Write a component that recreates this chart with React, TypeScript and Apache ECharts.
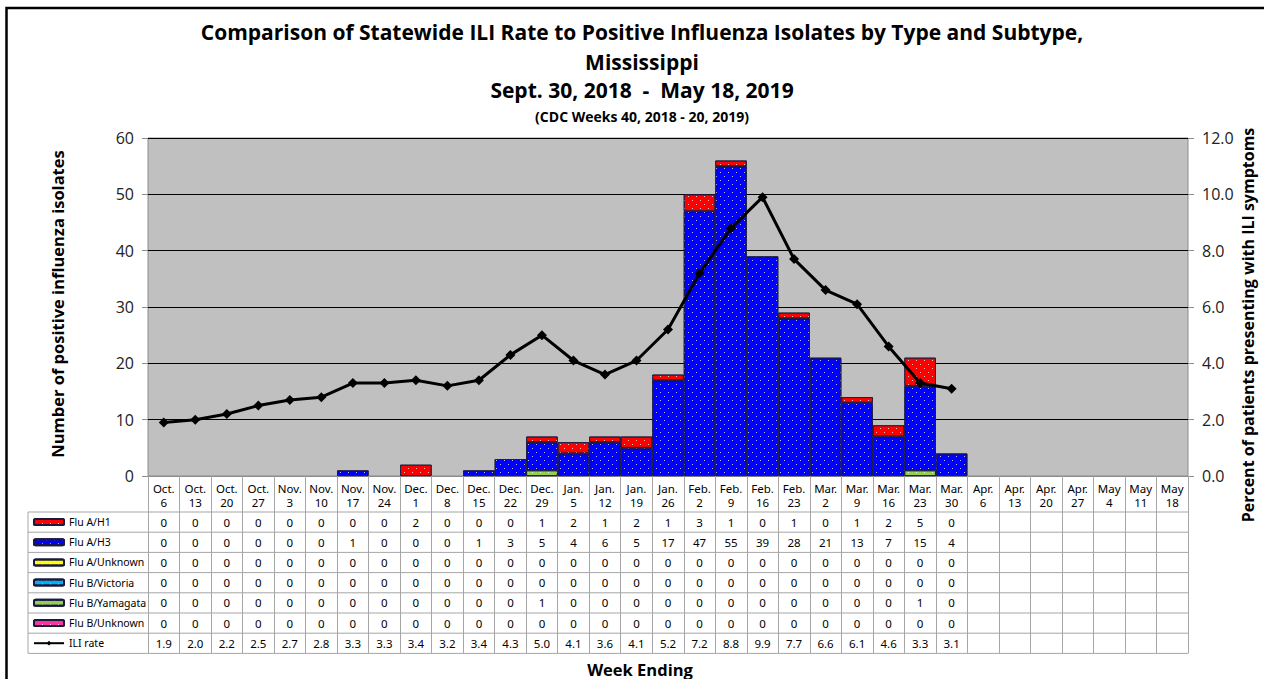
import React, { useEffect, useRef } from "react";
import * as echarts from "echarts";

const categories = [
  "Oct. 6", "Oct. 13", "Oct. 20", "Oct. 27", "Nov. 3", "Nov. 10", "Nov. 17", "Nov. 24",
  "Dec. 1", "Dec. 8", "Dec. 15", "Dec. 22", "Dec. 29", "Jan. 5", "Jan. 12", "Jan. 19",
  "Jan. 26", "Feb. 2", "Feb. 9", "Feb. 16", "Feb. 23", "Mar. 2", "Mar. 9", "Mar. 16",
  "Mar. 23", "Mar. 30", "Apr. 6", "Apr. 13", "Apr. 20", "Apr. 27", "May 4", "May 11", "May 18",
];

const fluAH1 = [0, 0, 0, 0, 0, 0, 0, 0, 2, 0, 0, 0, 1, 2, 1, 2, 1, 3, 1, 0, 1, 0, 1, 2, 5, 0];
const fluAH3 = [0, 0, 0, 0, 0, 0, 1, 0, 0, 0, 1, 3, 5, 4, 6, 5, 17, 47, 55, 39, 28, 21, 13, 7, 15, 4];
const fluAUnknown = [0, 0, 0, 0, 0, 0, 0, 0, 0, 0, 0, 0, 0, 0, 0, 0, 0, 0, 0, 0, 0, 0, 0, 0, 0, 0];
const fluBVictoria = [0, 0, 0, 0, 0, 0, 0, 0, 0, 0, 0, 0, 0, 0, 0, 0, 0, 0, 0, 0, 0, 0, 0, 0, 0, 0];
const fluBYamagata = [0, 0, 0, 0, 0, 0, 0, 0, 0, 0, 0, 0, 1, 0, 0, 0, 0, 0, 0, 0, 0, 0, 0, 0, 1, 0];
const fluBUnknown = [0, 0, 0, 0, 0, 0, 0, 0, 0, 0, 0, 0, 0, 0, 0, 0, 0, 0, 0, 0, 0, 0, 0, 0, 0, 0];
const iliRate = [1.9, 2.0, 2.2, 2.5, 2.7, 2.8, 3.3, 3.3, 3.4, 3.2, 3.4, 4.3, 5.0, 4.1, 3.6, 4.1, 5.2, 7.2, 8.8, 9.9, 7.7, 6.6, 6.1, 4.6, 3.3, 3.1];

const leftTicks = { min: 0, max: 60, interval: 10 };
const rightTicks = { min: 0, max: 12, interval: 2 };

const titleLines = [
  "Comparison of Statewide ILI Rate to Positive Influenza Isolates by Type and Subtype,",
  "Mississippi",
  "Sept. 30, 2018  -  May 18, 2019",
  "(CDC Weeks 40, 2018 - 20, 2019)",
];

const SANS = "'Open Sans', 'Noto Sans', sans-serif";
const TBL = "'Noto Sans', 'Open Sans', sans-serif";

// layout
const GRID_L = 148;
const GRID_R = 1188;
const GRID_T = 138;
const GRID_B = 476;
const TABLE_L = 28;
const HEADER_B = 512;
const ROW_H = 20.2;

const barSeriesDefs = [
  { name: "Flu B/Unknown", data: fluBUnknown, color: "#ff3399" },
  { name: "Flu B/Yamagata", data: fluBYamagata, color: "#92d050" },
  { name: "Flu B/Victoria", data: fluBVictoria, color: "#00b0f0" },
  { name: "Flu A/Unknown", data: fluAUnknown, color: "#ffff00" },
  { name: "Flu A/H3", data: fluAH3, color: "#0000ff" },
  { name: "Flu A/H1", data: fluAH1, color: "#ff0000" },
];

const tableRows = [
  { name: "Flu A/H1", data: fluAH1, fmt: (v: number) => String(v) },
  { name: "Flu A/H3", data: fluAH3, fmt: (v: number) => String(v) },
  { name: "Flu A/Unknown", data: fluAUnknown, fmt: (v: number) => String(v) },
  { name: "Flu B/Victoria", data: fluBVictoria, fmt: (v: number) => String(v) },
  { name: "Flu B/Yamagata", data: fluBYamagata, fmt: (v: number) => String(v) },
  { name: "Flu B/Unknown", data: fluBUnknown, fmt: (v: number) => String(v) },
  { name: "ILI rate", data: iliRate, fmt: (v: number) => v.toFixed(1) },
];

const decal = {
  symbol: "rect",
  symbolSize: 1,
  color: "rgba(255,255,255,0.75)",
  dashArrayX: [[1, 7], [0, 4, 1, 3]],
  dashArrayY: [1, 3],
  rotation: 0,
};

export default function App() {
  const ref = useRef<HTMLDivElement>(null);

  useEffect(() => {
    if (!ref.current) return;
    const chart = echarts.init(ref.current, undefined, { renderer: "svg" });

    const rowCenters = tableRows.map((_, i) => HEADER_B + ROW_H * (i + 0.5));
    const tableBottom = HEADER_B + ROW_H * tableRows.length;

    const extraXAxes = tableRows.map((row, i) => ({
      type: "category",
      gridIndex: 0,
      position: "bottom",
      offset: rowCenters[i] - GRID_B,
      data: categories,
      axisLine: { show: false },
      axisTick: { show: false },
      splitLine: { show: false },
      axisLabel: {
        interval: 0,
        margin: 0,
        verticalAlign: "middle",
        fontSize: 11.5,
        fontFamily: TBL,
        color: "#000",
        formatter: (_v: string, idx: number) =>
          row.data[idx] === undefined ? "" : row.fmt(row.data[idx]),
      },
    }));

    const lineEls: any[] = [];
    for (let i = 0; i <= tableRows.length; i++) {
      const y = HEADER_B + ROW_H * i;
      lineEls.push({
        type: "line",
        shape: { x1: TABLE_L, y1: y, x2: GRID_R, y2: y },
        style: { stroke: "#a6a6a6", lineWidth: 1 },
        silent: true,
      });
    }
    lineEls.push({
      type: "line",
      shape: { x1: TABLE_L, y1: HEADER_B, x2: TABLE_L, y2: tableBottom },
      style: { stroke: "#a6a6a6", lineWidth: 1 },
      silent: true,
    });

    const option: any = {
      animation: false,
      backgroundColor: "#fff",
      title: titleLines.map((t, i) => ({
        text: t,
        left: 642,
        top: [21, 51, 79, 109][i],
        textAlign: "center",
        padding: 0,
        textStyle: {
          fontSize: i === 3 ? 14 : 21,
          fontWeight: "bold",
          fontFamily: SANS,
          color: "#000",
        },
      })),
      legend: {
        orient: "vertical",
        left: 33,
        top: HEADER_B + 3,
        padding: 0,
        itemWidth: 30,
        itemHeight: 6,
        itemGap: 6.2,
        selectedMode: false,
        textStyle: { fontSize: 10.5, fontFamily: TBL, color: "#000", lineHeight: 14 },
        data: ["Flu A/H1", "Flu A/H3", "Flu A/Unknown", "Flu B/Victoria", "Flu B/Yamagata", "Flu B/Unknown", "ILI rate"],
      },
      grid: {
        left: GRID_L,
        right: 1264 - GRID_R,
        top: GRID_T,
        bottom: 679 - GRID_B,
        show: true,
        backgroundColor: "#c0c0c0",
        borderColor: "#8c8c8c",
        borderWidth: 1,
      },
      xAxis: [
        {
          type: "category",
          gridIndex: 0,
          data: categories,
          boundaryGap: true,
          axisLine: { show: true, lineStyle: { color: "#8c8c8c", width: 1 } },
          axisTick: {
            show: true,
            inside: false,
            length: tableBottom - GRID_B,
            lineStyle: { color: "#a6a6a6", width: 1 },
          },
          axisLabel: {
            interval: 0,
            margin: 5,
            fontSize: 11.5,
            lineHeight: 14,
            fontFamily: TBL,
            color: "#000",
            formatter: (v: string) => v.replace(" ", "\n"),
          },
          splitLine: { show: false },
        },
        ...extraXAxes,
      ],
      yAxis: [
        {
          type: "value",
          ...leftTicks,
          position: "left",
          axisLine: { show: false },
          axisTick: { show: true, length: 6, lineStyle: { color: "#8c8c8c" } },
          axisLabel: { fontSize: 16, fontFamily: SANS, color: "#222", margin: 14 },
          splitLine: { show: true, lineStyle: { color: "#000", width: 1 } },
        },
        {
          type: "value",
          ...rightTicks,
          position: "right",
          axisLine: { show: false },
          axisTick: { show: true, length: 6, lineStyle: { color: "#8c8c8c" } },
          axisLabel: {
            fontSize: 16,
            fontFamily: SANS,
            color: "#222",
            margin: 14,
            formatter: (v: number) => v.toFixed(1),
          },
          splitLine: { show: false },
        },
      ],
      series: [
        ...barSeriesDefs.map((s) => ({
          name: s.name,
          type: "bar",
          stack: "flu",
          xAxisIndex: 0,
          yAxisIndex: 0,
          barCategoryGap: "0%",
          data: categories.map((_, i) => {
            const v = s.data[i];
            return v === undefined || v === 0 ? null : v;
          }),
          itemStyle: {
            color: s.color,
            borderColor: "#1a1a40",
            borderWidth: 0.8,
            decal,
          },
        })),
        {
          name: "ILI rate",
          type: "line",
          xAxisIndex: 0,
          yAxisIndex: 1,
          data: categories.map((_, i) => (iliRate[i] === undefined ? null : iliRate[i])),
          symbol: "diamond",
          symbolSize: 10,
          lineStyle: { color: "#000", width: 3 },
          itemStyle: { color: "#000" },
          z: 10,
        },
      ],
      graphic: [
        {
          type: "rect",
          shape: { x: 6.5, y: 8, width: 1264, height: 690 },
          style: { fill: "none", stroke: "#000", lineWidth: 2.5 },
          silent: true,
          z: 100,
        },
        ...lineEls,
        {
          type: "text",
          x: 640,
          y: 669,
          style: {
            text: "Week Ending",
            align: "center",
            verticalAlign: "middle",
            fontSize: 16.5,
            fontWeight: "bold",
            fontFamily: SANS,
            fill: "#000",
          },
        },
        {
          type: "text",
          x: 57,
          y: 304,
          rotation: Math.PI / 2,
          style: {
            text: "Number of positive influenza isolates",
            align: "center",
            verticalAlign: "middle",
            fontSize: 16.5,
            fontWeight: "bold",
            fontFamily: SANS,
            fill: "#000",
          },
        },
        {
          type: "text",
          x: 1248,
          y: 325,
          rotation: Math.PI / 2,
          style: {
            text: "Percent of patients presenting with ILI symptoms",
            align: "center",
            verticalAlign: "middle",
            fontSize: 16,
            fontWeight: "bold",
            fontFamily: SANS,
            fill: "#000",
          },
        },
      ],
    };

    chart.setOption(option);
    return () => chart.dispose();
  }, []);

  return (
    <div
      ref={ref}
      style={{ position: "absolute", left: 0, top: 0, width: 1264, height: 679 }}
    />
  );
}
